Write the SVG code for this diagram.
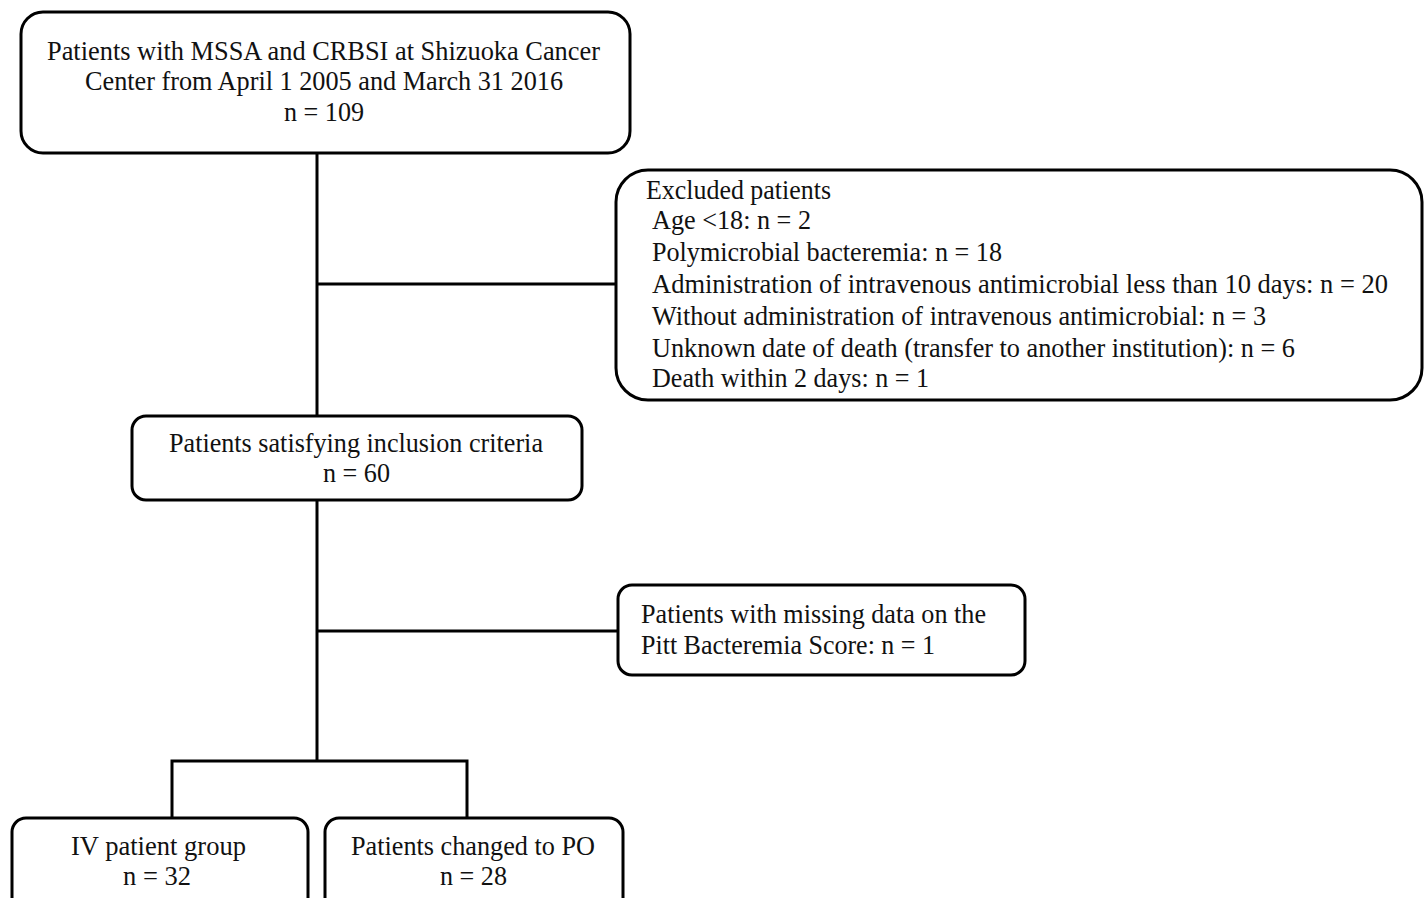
<svg xmlns="http://www.w3.org/2000/svg" width="1424" height="898" viewBox="0 0 1424 898">
<style>
.box{fill:#fff;stroke:#000;stroke-width:3}
.ln{fill:none;stroke:#000;stroke-width:3}
text{font-family:"Liberation Serif","Times New Roman",serif;font-size:28px;fill:#111}
</style>
<rect width="1424" height="898" fill="#fff"/>
<g id="connectors">
<path class="ln" d="M317 153 V416"/>
<path class="ln" d="M317 284 H617"/>
<path class="ln" d="M317 500 V761"/>
<path class="ln" d="M317 631 H619"/>
<path class="ln" d="M172 818 V761 H467 V818"/>
</g>
<g id="n-total">
<rect class="box" x="21" y="12" width="609" height="141" rx="22"/>
<text x="47" y="60" textLength="553" lengthAdjust="spacingAndGlyphs">Patients with MSSA and CRBSI at Shizuoka Cancer</text>
<text x="85" y="90" textLength="478" lengthAdjust="spacingAndGlyphs">Center from April 1 2005 and March 31 2016</text>
<text x="284" y="121" textLength="80" lengthAdjust="spacingAndGlyphs">n = 109</text>
</g>
<g id="n-excluded">
<rect class="box" x="616" y="170" width="806" height="230" rx="32"/>
<text x="646" y="199" textLength="185" lengthAdjust="spacingAndGlyphs">Excluded patients</text>
<text x="652" y="229" textLength="159" lengthAdjust="spacingAndGlyphs">Age &lt;18: n = 2</text>
<text x="652" y="261" textLength="350" lengthAdjust="spacingAndGlyphs">Polymicrobial  bacteremia: n = 18</text>
<text x="652" y="293" textLength="736" lengthAdjust="spacingAndGlyphs">Administration  of intravenous antimicrobial  less than 10 days: n = 20</text>
<text x="652" y="325" textLength="614" lengthAdjust="spacingAndGlyphs">Without administration of intravenous antimicrobial:  n = 3</text>
<text x="652" y="357" textLength="643" lengthAdjust="spacingAndGlyphs">Unknown date of death (transfer to another institution): n = 6</text>
<text x="652" y="387" textLength="277" lengthAdjust="spacingAndGlyphs">Death within 2 days: n = 1</text>
</g>
<g id="n-included">
<rect class="box" x="132" y="416" width="450" height="84" rx="14"/>
<text x="169" y="452" textLength="374" lengthAdjust="spacingAndGlyphs">Patients satisfying inclusion  criteria</text>
<text x="323" y="482" textLength="67" lengthAdjust="spacingAndGlyphs">n = 60</text>
</g>
<g id="n-missing">
<rect class="box" x="618" y="585" width="407" height="90" rx="14"/>
<text x="641" y="623" textLength="345" lengthAdjust="spacingAndGlyphs">Patients with missing data on the</text>
<text x="641" y="654" textLength="294" lengthAdjust="spacingAndGlyphs">Pitt Bacteremia  Score: n = 1</text>
</g>
<g id="n-iv">
<rect class="box" x="12" y="818" width="296" height="95" rx="14"/>
<text x="71" y="855" textLength="175" lengthAdjust="spacingAndGlyphs">IV patient  group</text>
<text x="123" y="885" textLength="68" lengthAdjust="spacingAndGlyphs">n = 32</text>
</g>
<g id="n-po">
<rect class="box" x="325" y="818" width="298" height="95" rx="14"/>
<text x="351" y="855" textLength="244" lengthAdjust="spacingAndGlyphs">Patients changed to PO</text>
<text x="440" y="885" textLength="67" lengthAdjust="spacingAndGlyphs">n = 28</text>
</g>
</svg>
